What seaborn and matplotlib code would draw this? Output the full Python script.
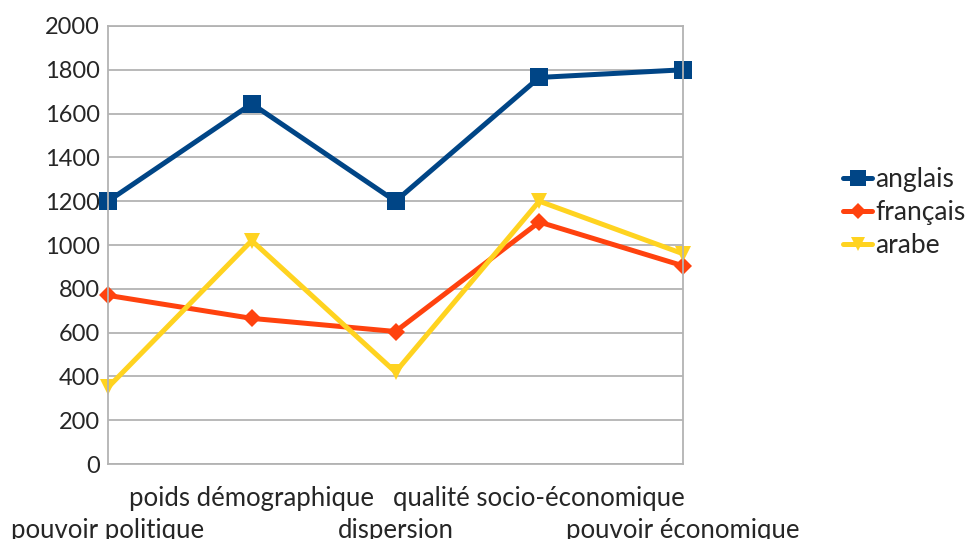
import matplotlib
matplotlib.use('Agg')
import matplotlib.pyplot as plt
import pandas as pd
import seaborn as sns

# Data
categories = ['pouvoir politique', 'poids démographique', 'dispersion',
              'qualité socio-économique', 'pouvoir économique']
anglais = [1200, 1645, 1200, 1765, 1800]
francais = [770, 665, 605, 1105, 905]
arabe = [350, 1020, 420, 1200, 960]
series_names = ['anglais', 'français', 'arabe']
colors = ['#004586', '#ff420e', '#ffd320']
yticks = [0, 200, 400, 600, 800, 1000, 1200, 1400, 1600, 1800, 2000]

rows = []
for name, vals in zip(series_names, [anglais, francais, arabe]):
    for i, v in enumerate(vals):
        rows.append({'pos': i, 'valeur': v, 'langue': name})
df = pd.DataFrame(rows)

sns.set_style('white')
plt.rcParams['font.family'] = ['Lato', 'DejaVu Sans']

fig = plt.figure(figsize=(9.65, 5.39), dpi=100)
ax = fig.add_axes([0.1119, 0.1391, 0.5959, 0.8127])

sns.lineplot(data=df, x='pos', y='valeur', hue='langue', style='langue',
             palette=dict(zip(series_names, colors)),
             markers={'anglais': 's', 'français': 'D', 'arabe': 'v'},
             dashes=False, linewidth=3.6, markersize=12,
             markeredgewidth=0, ax=ax, legend=False)

# bigger square, smaller diamond like the original
for line, ms in zip(ax.get_lines(), [13, 9, 12]):
    line.set_markersize(ms)
    line.set_clip_on(False)

ax.set_xlim(0, len(categories) - 1)
ax.set_ylim(0, 2000)
ax.set_yticks(yticks)
ax.set_yticklabels([str(t) for t in yticks], fontsize=17)
ax.set_xticks(range(len(categories)))
ax.set_xticklabels(categories, fontsize=18.5)
for i, tick in enumerate(ax.xaxis.get_major_ticks()):
    tick.set_pad(39 if i % 2 == 0 else 16)
ax.tick_params(axis='both', length=0)
ax.tick_params(axis='y', pad=6)
ax.set_xlabel('')
ax.set_ylabel('')

ax.yaxis.grid(True, color='#b3b3b3', linewidth=1.3)
ax.xaxis.grid(False)
ax.set_axisbelow(True)
for sp in ax.spines.values():
    sp.set_color('#b3b3b3')
    sp.set_linewidth(1.3)

handles = [plt.Line2D([], [], color=c, marker=m, linewidth=3.6, markersize=ms,
                      markeredgewidth=0)
           for c, m, ms in zip(colors, ['s', 'D', 'v'], [11, 8, 10])]
fig.legend(handles, series_names, loc='center left',
           bbox_to_anchor=(0.874, 0.605), frameon=False, fontsize=19,
           handlelength=1.1, handletextpad=0.1, labelspacing=0.3,
           borderaxespad=0, borderpad=0)

fig.savefig('out.png', dpi=100)
